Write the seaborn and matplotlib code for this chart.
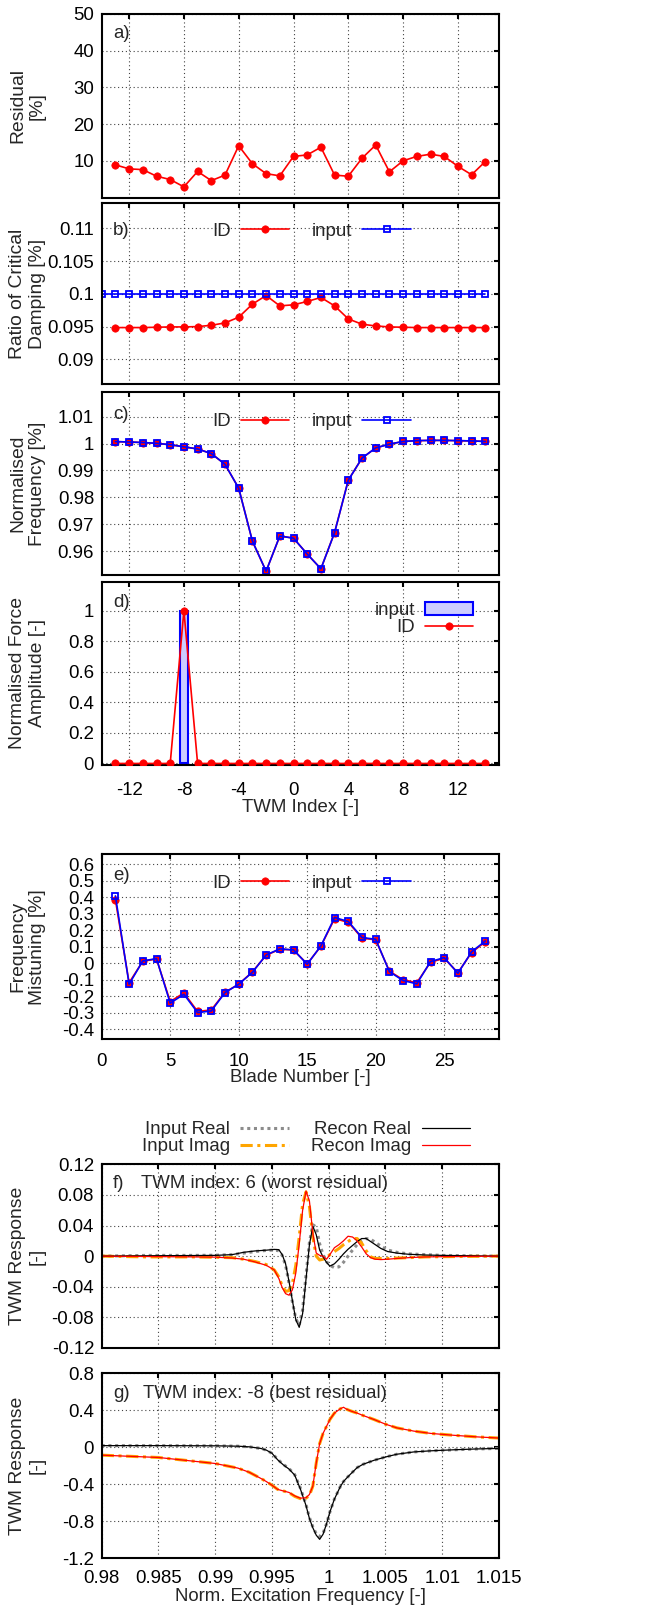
import matplotlib
matplotlib.use("Agg")
import matplotlib.pyplot as plt
from matplotlib.ticker import FormatStrFormatter
import seaborn as sns

# ---------------- data ----------------
twm = list(range(-13, 15))
twm_input_b = list(range(-14, 15))
blade = list(range(1, 29))

residual = [8.9, 7.8, 7.6, 5.8, 4.9, 2.9, 7.1, 4.6, 6.1, 14.1, 9.2, 6.5, 5.9, 11.2,
            11.6, 13.7, 6.1, 5.8, 10.7, 14.3, 7.0, 10.0, 11.2, 11.8, 11.2, 8.5, 6.2, 9.8]

damp_id = [0.09485, 0.09485, 0.09485, 0.0949, 0.09495, 0.09495, 0.0950, 0.0952, 0.09556,
           0.09643, 0.09842, 0.09974, 0.09816, 0.09832, 0.09883, 0.09944, 0.09816, 0.09617,
           0.09536, 0.0951, 0.09495, 0.0949, 0.09485, 0.09485, 0.09485, 0.09485, 0.09485, 0.09485]
damp_input = [0.1, 0.1, 0.1, 0.1, 0.1, 0.1, 0.1, 0.1, 0.1, 0.1, 0.1, 0.1, 0.1, 0.1, 0.1,
              0.1, 0.1, 0.1, 0.1, 0.1, 0.1, 0.1, 0.1, 0.1, 0.1, 0.1, 0.1, 0.1, 0.1]

freq_id = [1.00075, 1.0006, 1.0004, 1.0001, 0.9996, 0.9988, 0.9980, 0.9963, 0.9923, 0.9834,
           0.9637, 0.9525, 0.9656, 0.9648, 0.9589, 0.9534, 0.9669, 0.9864, 0.9946, 0.9984,
           0.9998, 1.0008, 1.0011, 1.0012, 1.0012, 1.0011, 1.0010, 1.0008]
freq_input = [1.00075, 1.0006, 1.0004, 1.0001, 0.9996, 0.9988, 0.9980, 0.9963, 0.9923, 0.9834,
              0.9637, 0.9525, 0.9656, 0.9648, 0.9589, 0.9534, 0.9669, 0.9864, 0.9946, 0.9984,
              0.9998, 1.0008, 1.0011, 1.0012, 1.0012, 1.0011, 1.0010, 1.0008]

force_input = [0, 0, 0, 0, 0, 1, 0, 0, 0, 0, 0, 0, 0, 0, 0, 0, 0, 0, 0, 0, 0, 0, 0, 0, 0, 0, 0, 0]
force_id = [0, 0, 0, 0, 0, 1.0, 0, 0, 0, 0, 0, 0, 0, 0, 0, 0, 0, 0, 0, 0, 0, 0, 0, 0, 0, 0, 0, 0]

mist_input = [0.408, -0.127, 0.014, 0.028, -0.242, -0.188, -0.299, -0.289, -0.178, -0.127,
              -0.055, 0.050, 0.087, 0.081, -0.006, 0.105, 0.277, 0.253, 0.156, 0.145,
              -0.051, -0.105, -0.125, 0.010, 0.034, -0.061, 0.069, 0.135]
mist_id = [0.384, -0.118, 0.012, 0.026, -0.232, -0.180, -0.292, -0.283, -0.176, -0.127,
           -0.052, 0.048, 0.085, 0.080, -0.004, 0.103, 0.270, 0.248, 0.152, 0.142,
           -0.048, -0.100, -0.118, 0.006, 0.030, -0.057, 0.065, 0.130]

# f) TWM index 6
freq_f = [0.980, 0.984, 0.988, 0.990, 0.9915, 0.9925, 0.9935, 0.9945, 0.9952, 0.9956, 0.9959,
          0.9962, 0.9965, 0.9968, 0.9971, 0.9974, 0.9977, 0.998, 0.9983, 0.9986, 0.9989, 0.9992,
          0.9995, 0.9998, 1.0001, 1.0005, 1.0009, 1.0013, 1.0017, 1.0021, 1.0025, 1.0029, 1.0033,
          1.0037, 1.0041, 1.0046, 1.0052, 1.006, 1.007, 1.0085, 1.010, 1.0125, 1.015]
f_in_real = [0.0, 0.001, 0.001, 0.0012, 0.002, 0.004, 0.006, 0.0075, 0.008, 0.007, 0.001,
             -0.012, -0.035, -0.060, -0.082, -0.090, -0.070, -0.025, 0.018, 0.041, 0.038, 0.016,
             0.002, -0.007, -0.012, -0.015, -0.014, -0.008, 0.0, 0.008, 0.015, 0.020, 0.023,
             0.022, 0.018, 0.013, 0.008, 0.005, 0.003, 0.002, 0.001, 0.0005, 0.0]
f_in_imag = [0.0, -0.001, -0.001, -0.0015, -0.002, -0.004, -0.007, -0.011, -0.018, -0.027, -0.039,
             -0.046, -0.045, -0.036, -0.012, 0.025, 0.068, 0.084, 0.065, 0.025, 0.0, -0.005,
             -0.004, -0.002, 0.002, 0.006, 0.010, 0.015, 0.019, 0.023, 0.023, 0.017, 0.007,
             -0.001, -0.003, -0.003, -0.003, -0.0025, -0.002, -0.001, -0.0007, -0.0003, 0.0]
f_rec_real = [0.0, 0.0005, 0.0008, 0.001, 0.002, 0.005, 0.0068, 0.0078, 0.0088, 0.0085, 0.002,
              -0.010, -0.033, -0.058, -0.083, -0.093, -0.075, -0.030, 0.015, 0.039, 0.028, 0.008,
              -0.001, -0.008, -0.013, -0.010, -0.004, 0.003, 0.009, 0.014, 0.019, 0.023, 0.023,
              0.019, 0.015, 0.010, 0.006, 0.004, 0.0025, 0.0015, 0.001, 0.0005, 0.0]
f_rec_imag = [0.0, -0.0005, -0.001, -0.0013, -0.0025, -0.004, -0.0075, -0.012, -0.018, -0.029, -0.041,
              -0.049, -0.051, -0.044, -0.022, 0.016, 0.060, 0.085, 0.072, 0.030, 0.004, 0.001,
              0.0, -0.004, 0.002, 0.011, 0.015, 0.020, 0.026, 0.025, 0.020, 0.012, 0.003,
              -0.002, -0.004, -0.0045, -0.004, -0.003, -0.002, -0.001, -0.0007, -0.0003, 0.0]

# g) TWM index -8
freq_g = [0.980, 0.985, 0.990, 0.992, 0.993, 0.994, 0.9945, 0.995, 0.9955, 0.996, 0.9965, 0.997,
          0.9975, 0.998, 0.9983, 0.9986, 0.9989, 0.9992, 0.9995, 0.9998, 1.0001, 1.0005, 1.001,
          1.0013, 1.0016, 1.002, 1.0025, 1.003, 1.004, 1.005, 1.006, 1.0075, 1.009, 1.011, 1.013, 1.015]
g_in_real = [0.018, 0.018, 0.016, 0.012, 0.005, -0.012, -0.03, -0.065, -0.13, -0.185, -0.23, -0.295,
             -0.44, -0.62, -0.76, -0.86, -0.935, -0.965, -0.93, -0.83, -0.70, -0.56, -0.43,
             -0.37, -0.33, -0.28, -0.22, -0.185, -0.14, -0.105, -0.075, -0.05, -0.038, -0.027, -0.018, -0.012]
g_in_imag = [-0.085, -0.11, -0.175, -0.225, -0.27, -0.335, -0.37, -0.41, -0.455, -0.472, -0.49, -0.53,
             -0.555, -0.55, -0.52, -0.42, -0.17, 0.04, 0.15, 0.225, 0.30, 0.37, 0.415,
             0.43, 0.41, 0.39, 0.37, 0.345, 0.30, 0.25, 0.21, 0.175, 0.15, 0.13, 0.113, 0.1]
g_rec_real = [0.018, 0.018, 0.016, 0.012, 0.005, -0.012, -0.03, -0.065, -0.135, -0.19, -0.235, -0.30,
              -0.45, -0.63, -0.77, -0.87, -0.95, -0.995, -0.94, -0.83, -0.70, -0.56, -0.43,
              -0.37, -0.33, -0.28, -0.22, -0.185, -0.14, -0.105, -0.075, -0.05, -0.038, -0.027, -0.018, -0.012]
g_rec_imag = [-0.085, -0.11, -0.175, -0.225, -0.27, -0.335, -0.37, -0.41, -0.455, -0.472, -0.488, -0.525,
              -0.55, -0.545, -0.51, -0.42, -0.17, 0.04, 0.15, 0.225, 0.30, 0.37, 0.415,
              0.433, 0.41, 0.39, 0.37, 0.345, 0.30, 0.25, 0.21, 0.175, 0.15, 0.13, 0.113, 0.1]

# ---------------- style ----------------
sns.set_style("white")
plt.rcParams['font.family'] = ['Liberation Sans Narrow', 'Liberation Sans', 'DejaVu Sans']
plt.rcParams['axes.unicode_minus'] = False
FS = 13.4
YLAB_FAMILY = ['Liberation Sans', 'DejaVu Sans']

W, H = 646, 1609
fig = plt.figure(figsize=(W / 100, H / 100), dpi=100)


def make_axes(top, bottom):
    ax = fig.add_axes([101.7 / W, 1 - bottom / H, 397.3 / W, (bottom - top) / H])
    for s in ax.spines.values():
        s.set_linewidth(1.5)
        s.set_color('black')
    ax.tick_params(direction='in', top=True, right=True, length=3.6, width=1.5,
                   labelsize=FS, pad=5.5, colors='black')
    ax.grid(True, color='#444444', lw=0.8, ls=(0, (1, 2.5)))
    ax.set_axisbelow(True)
    fig.text(27.5 / W, 1 - (top + bottom) / 2 / H, ylabels.pop(0), rotation=90,
             ha='center', va='center', multialignment='center', fontsize=13.9,
             family=YLAB_FAMILY, linespacing=1.2)
    return ax


ylabels = ['Residual\n[%]', 'Ratio of Critical\nDamping [%]', 'Normalised\nFrequency [%]',
           'Normalised Force\nAmplitude [-]', 'Frequency\nMistuning [%]',
           'TWM Response\n[-]', 'TWM Response\n[-]']

twm_ticks = [-12, -8, -4, 0, 4, 8, 12]
id_kw = dict(color='red', lw=1.2, marker='o', markersize=5.3, markerfacecolor='red',
             markeredgecolor='red', markeredgewidth=0.5, errorbar=None)
in_kw = dict(color='blue', lw=1.2, marker='s', markersize=5.0, markerfacecolor='none',
             markeredgecolor='blue', markeredgewidth=1.3, errorbar=None)
leg_kw = dict(loc='center', ncol=2, markerfirst=False, frameon=False, handlelength=2.6,
              handletextpad=0.55, columnspacing=1.2, borderpad=0, borderaxespad=0, fontsize=FS)


def panel_label(ax, s, y):
    ax.text(0.028, y, s, transform=ax.transAxes, fontsize=FS, ha='left', va='center')


# a) residual
ax = make_axes(14, 197.5)
sns.lineplot(x=twm, y=residual, ax=ax, **id_kw)
ax.set_xlim(-14, 15)
ax.set_ylim(0, 50)
ax.set_yticks([10, 20, 30, 40, 50])
ax.set_xticks(twm_ticks)
ax.tick_params(labelbottom=False)
panel_label(ax, 'a)', 0.895)

# b) damping
ax = make_axes(203.3, 384.3)
sns.lineplot(x=twm, y=damp_id, ax=ax, label='ID', **id_kw)
sns.lineplot(x=twm_input_b, y=damp_input, ax=ax, label='input', **in_kw)
ax.set_xlim(-14, 15)
ax.set_ylim(0.0862, 0.1138)
ax.set_yticks([0.09, 0.095, 0.1, 0.105, 0.11])
ax.yaxis.set_major_formatter(FormatStrFormatter('%g'))
ax.set_xticks(twm_ticks)
ax.tick_params(labelbottom=False)
ax.legend(bbox_to_anchor=(0.528, 0.847), **leg_kw)
panel_label(ax, 'b)', 0.847)

# c) frequency
ax = make_axes(392.3, 574.7)
sns.lineplot(x=twm, y=freq_id, ax=ax, label='ID', **id_kw)
sns.lineplot(x=twm, y=freq_input, ax=ax, label='input', **in_kw)
ax.set_xlim(-14, 15)
ax.set_ylim(0.9512, 1.0191)
ax.set_yticks([0.96, 0.97, 0.98, 0.99, 1.0, 1.01])
ax.yaxis.set_major_formatter(FormatStrFormatter('%g'))
ax.set_xticks(twm_ticks)
ax.tick_params(labelbottom=False)
ax.legend(bbox_to_anchor=(0.528, 0.839), **leg_kw)
panel_label(ax, 'c)', 0.876)

# d) force
ax = make_axes(581.7, 765)
bar_x = [x for x, v in zip(twm, force_input) if v > 0]
bar_h = [v for v in force_input if v > 0]
ax.bar(bar_x, bar_h, width=0.55, color='#ccccff', edgecolor='blue', lw=1.5, label='input', zorder=2)
sns.lineplot(x=twm, y=force_id, ax=ax, label='ID', zorder=3, **id_kw)
ax.set_xlim(-14, 15)
ax.set_ylim(-0.01, 1.19)
ax.set_yticks([0, 0.2, 0.4, 0.6, 0.8, 1])
ax.yaxis.set_major_formatter(FormatStrFormatter('%g'))
ax.set_xticks(twm_ticks)
ax.tick_params(axis='x', pad=12)
ax.set_xlabel('TWM Index [-]', fontsize=FS, va='center')
ax.xaxis.set_label_coords(0.5, -0.232)
hd = dict(zip(*ax.get_legend_handles_labels()[::-1]))
ax.legend([hd['input'], hd['ID']], ['input', 'ID'], loc='center', bbox_to_anchor=(0.811, 0.794),
          markerfirst=False, frameon=False, handlelength=2.6, handletextpad=0.55,
          labelspacing=0.0, borderpad=0, borderaxespad=0, fontsize=FS)
panel_label(ax, 'd)', 0.885)

# e) mistuning
ax = make_axes(854.3, 1039)
sns.lineplot(x=blade, y=mist_id, ax=ax, label='ID', **id_kw)
sns.lineplot(x=blade, y=mist_input, ax=ax, label='input', **in_kw)
ax.set_xlim(0, 29)
ax.set_ylim(-0.459, 0.66)
ax.set_yticks([-0.4, -0.3, -0.2, -0.1, 0, 0.1, 0.2, 0.3, 0.4, 0.5, 0.6])
ax.yaxis.set_major_formatter(FormatStrFormatter('%g'))
ax.set_xticks([0, 5, 10, 15, 20, 25])
ax.tick_params(axis='x', pad=10)
ax.set_xlabel('Blade Number [-]', fontsize=FS, va='center')
ax.xaxis.set_label_coords(0.5, -0.208)
ax.legend(bbox_to_anchor=(0.528, 0.843), **leg_kw)
panel_label(ax, 'e)', 0.883)

# f) / g) responses
freq_ticks = [0.98, 0.985, 0.99, 0.995, 1.0, 1.005, 1.01, 1.015]
style_in_real = dict(color='#8c8c8c', lw=2.2, linestyle=(0, (1, 1.2)), errorbar=None)
style_in_imag = dict(color='#ffa500', lw=2.2, linestyle=(0, (4, 1.5, 1, 1.5)), errorbar=None)
style_rec_real = dict(color='black', lw=0.9, errorbar=None)
style_rec_imag = dict(color='red', lw=0.9, errorbar=None)

ax = make_axes(1164.3, 1348)
sns.lineplot(x=freq_f, y=f_in_real, ax=ax, label='Input Real', **style_in_real)
sns.lineplot(x=freq_f, y=f_in_imag, ax=ax, label='Input Imag', **style_in_imag)
sns.lineplot(x=freq_f, y=f_rec_real, ax=ax, label='Recon Real', **style_rec_real)
sns.lineplot(x=freq_f, y=f_rec_imag, ax=ax, label='Recon Imag', **style_rec_imag)
ax.set_xlim(0.98, 1.015)
ax.set_ylim(-0.12, 0.12)
ax.set_yticks([-0.12, -0.08, -0.04, 0, 0.04, 0.08, 0.12])
ax.yaxis.set_major_formatter(FormatStrFormatter('%g'))
ax.set_xticks(freq_ticks)
ax.tick_params(labelbottom=False)
ax.legend(loc='center', bbox_to_anchor=(0.514, 1.143), ncol=2, markerfirst=False, frameon=False,
          handlelength=2.6, handletextpad=0.55, columnspacing=1.2, labelspacing=0.0,
          borderpad=0, borderaxespad=0, fontsize=FS)
panel_label(ax, 'f)', 0.895)
ax.text(0.1, 0.895, 'TWM index: 6 (worst residual)', transform=ax.transAxes,
        fontsize=FS, ha='left', va='center')

ax = make_axes(1373.3, 1558.3)
sns.lineplot(x=freq_g, y=g_in_real, ax=ax, **style_in_real)
sns.lineplot(x=freq_g, y=g_in_imag, ax=ax, **style_in_imag)
sns.lineplot(x=freq_g, y=g_rec_real, ax=ax, **style_rec_real)
sns.lineplot(x=freq_g, y=g_rec_imag, ax=ax, **style_rec_imag)
ax.set_xlim(0.98, 1.015)
ax.set_ylim(-1.2, 0.8)
ax.set_yticks([-1.2, -0.8, -0.4, 0, 0.4, 0.8])
ax.yaxis.set_major_formatter(FormatStrFormatter('%g'))
ax.set_xticks(freq_ticks)
ax.xaxis.set_major_formatter(FormatStrFormatter('%g'))
ax.tick_params(axis='x', pad=8.5)
ax.set_xlabel('Norm. Excitation Frequency [-]', fontsize=FS, va='center')
ax.xaxis.set_label_coords(0.5, -0.208)
panel_label(ax, 'g)', 0.892)
ax.text(0.103, 0.892, 'TWM index: -8 (best residual)', transform=ax.transAxes,
        fontsize=FS, ha='left', va='center')

fig.savefig('out.png', dpi=100)
